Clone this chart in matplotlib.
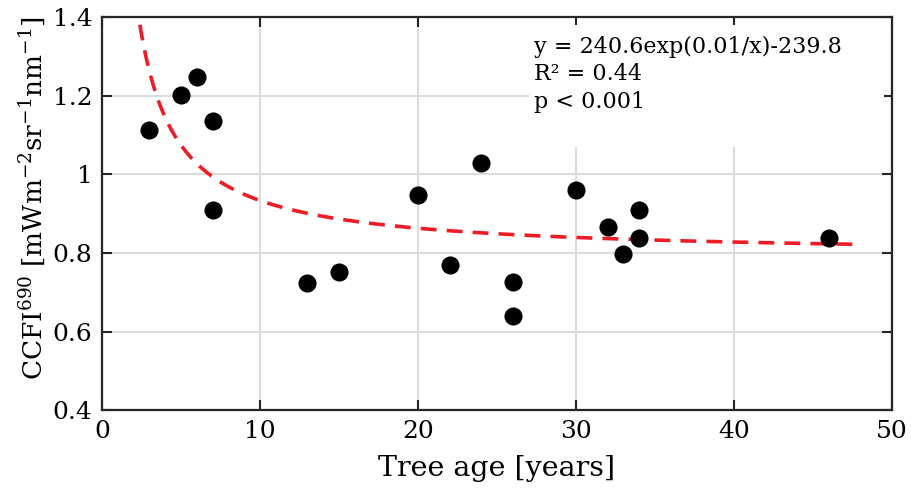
import matplotlib
matplotlib.use('Agg')
import matplotlib.pyplot as plt
import numpy as np
from matplotlib.patches import Rectangle

# tree age [years] and CCFI690
tree_age = [3, 5, 6, 7, 7, 13, 15, 20, 22, 24, 26, 26, 30, 32, 33, 34, 34, 46]
ccfi = [1.113, 1.202, 1.248, 1.137, 0.910, 0.723, 0.752, 0.947, 0.769, 1.028,
        0.726, 0.639, 0.960, 0.867, 0.797, 0.910, 0.838, 0.838]

fit_text = ['y = 240.6exp(0.01/x)-239.8', 'R\u00b2 = 0.44', 'p < 0.001']
x_ticks = [0, 10, 20, 30, 40, 50]
y_ticks = [0.4, 0.6, 0.8, 1.0, 1.2, 1.4]
y_tick_labels = ['0.4', '0.6', '0.8', '1', '1.2', '1.4']

plt.rcParams['font.family'] = ['DejaVu Serif']
plt.rcParams['mathtext.fontset'] = 'dejavuserif'

fig = plt.figure(figsize=(9.11, 4.90), dpi=100)
ax = fig.add_axes([0.112, 0.163, 0.867, 0.802])

# fit: y ~ a*exp(b/x)+c, which for small b is c + k/x
age = np.array(tree_age, dtype=float)
k, c = np.polyfit(1.0 / age, np.array(ccfi), 1)
xf = np.linspace(2.0, 47.8, 300)
ax.plot(xf, c + k / xf, color='#ee1c25', linewidth=2.6,
        linestyle=(0, (4.4, 2.8)), zorder=3)

ax.scatter(tree_age, ccfi, s=170, color='black', zorder=4, linewidths=0)

ax.set_xlim(0, 50)
ax.set_ylim(0.4, 1.4)
ax.set_xticks(x_ticks)
ax.set_yticks(y_ticks)
ax.set_yticklabels(y_tick_labels)
ax.set_axisbelow(True)
ax.grid(True, color='#dcdcdc', linewidth=1.5)
ax.tick_params(direction='in', length=7, width=1.5, color='#262626',
               labelsize=18, top=True, right=True, pad=7)
for sp in ax.spines.values():
    sp.set_linewidth(1.6)
    sp.set_color('#262626')

# white box behind the fit text hides the grid
ax.add_patch(Rectangle((0.54, 0.67), 0.45, 0.31, transform=ax.transAxes,
                       facecolor='white', edgecolor='none', zorder=1))
for i, t in enumerate(fit_text):
    ax.text(0.547, 0.925 - i * 0.07, t, transform=ax.transAxes,
            fontsize=16, va='center', ha='left', zorder=5)

ax.set_xlabel('Tree age [years]', fontsize=20.5, labelpad=9)
ax.set_ylabel(r'CCFI$^{690}$ [mWm$^{-2}$sr$^{-1}$nm$^{-1}$]', fontsize=19)
ax.yaxis.set_label_coords(-0.068, 0.54)

fig.savefig('out.png', dpi=100)
